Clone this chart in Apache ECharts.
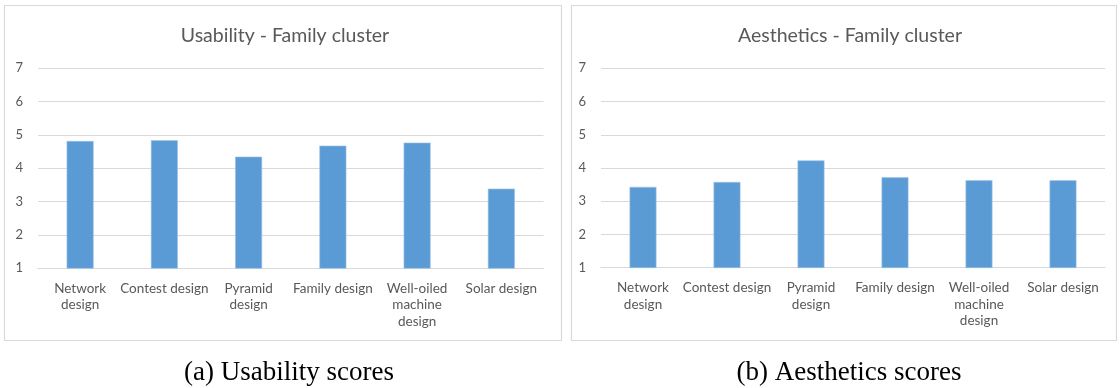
<!DOCTYPE html>
<html>
<head>
<meta charset="utf-8">
<style>
  html, body { margin: 0; padding: 0; background: #ffffff; }
  #chart { width: 1120px; height: 388px; }
</style>
<script src="https://cdn.jsdelivr.net/npm/echarts@6/dist/echarts.min.js"></script>
</head>
<body>
<div id="chart"></div>
<script>
// Design categories (line breaks as they wrap under each bar)
const categories = [
  'Network\ndesign',
  'Contest design',
  'Pyramid\ndesign',
  'Family design',
  'Well-oiled\nmachine\ndesign',
  'Solar design'
];

// Mean scores per design, Family cluster
const usabilityScores = [4.82, 4.84, 4.35, 4.68, 4.77, 3.39];
const aestheticsScores = [3.43, 3.58, 4.23, 3.72, 3.63, 3.63];

// Score axis range and ticks
const scoreMin = 1;
const scoreMax = 7;
const scoreStep = 1;

// Panel titles and captions
const panelTitles = ['Usability - Family cluster', 'Aesthetics - Family cluster'];
const captions = ['(a) Usability scores', '(b) Aesthetics scores'];

const BAR = '#5B9BD5';
const GRID = '#D9D9D9';
const TEXT = '#595959';
const FONT = 'Lato';

const chart = echarts.init(document.getElementById('chart'), null, { renderer: 'canvas' });

const grids = [
  { left: 38, right: 1120 - 543.5, top: 68.3, bottom: 388 - 268.3 },
  { left: 601, right: 1120 - 1105, top: 68.3, bottom: 388 - 267.7 }
];

function xAxisFor(i) {
  return {
    type: 'category',
    gridIndex: i,
    data: categories,
    axisTick: { show: false },
    axisLine: { show: true, lineStyle: { color: GRID, width: 1.2 } },
    axisLabel: {
      color: TEXT,
      fontFamily: FONT,
      fontSize: 13.5,
      lineHeight: 16.5,
      margin: 12,
      interval: 0
    }
  };
}

function yAxisFor(i) {
  return {
    type: 'value',
    gridIndex: i,
    min: scoreMin,
    max: scoreMax,
    interval: scoreStep,
    axisLine: { show: false },
    axisTick: { show: false },
    splitLine: { lineStyle: { color: GRID, width: 1.2 } },
    axisLabel: {
      color: TEXT,
      fontFamily: FONT,
      fontSize: 13,
      margin: 15
    }
  };
}

function barSeries(i, values) {
  return {
    type: 'bar',
    xAxisIndex: i,
    yAxisIndex: i,
    data: values,
    barWidth: '32%',
    itemStyle: { color: BAR, borderColor: '#9CC2E6', borderWidth: 0.6 },
    silent: true,
    animation: false
  };
}

function panelTitle(text, centerX) {
  return {
    text: text,
    left: centerX,
    top: 21,
    textAlign: 'center',
    textStyle: { color: TEXT, fontFamily: FONT, fontSize: 19.5, fontWeight: 'normal' }
  };
}

function caption(text, centerX) {
  return {
    type: 'text',
    x: centerX,
    y: 373,
    style: {
      text: text,
      fill: '#000000',
      font: '27px "Liberation Serif", "Times New Roman", serif',
      textAlign: 'center',
      textVerticalAlign: 'middle'
    },
    silent: true
  };
}

const option = {
  animation: false,
  backgroundColor: '#ffffff',
  title: [panelTitle(panelTitles[0], 280), panelTitle(panelTitles[1], 845)],
  grid: grids,
  xAxis: [xAxisFor(0), xAxisFor(1)],
  yAxis: [yAxisFor(0), yAxisFor(1)],
  series: [barSeries(0, usabilityScores), barSeries(1, aestheticsScores)],
  graphic: [
    {
      type: 'rect',
      shape: { x: 4.5, y: 5.5, width: 557, height: 335 },
      style: { fill: 'none', stroke: GRID, lineWidth: 1.2 },
      silent: true
    },
    {
      type: 'rect',
      shape: { x: 571.5, y: 5.5, width: 545, height: 335 },
      style: { fill: 'none', stroke: GRID, lineWidth: 1.2 },
      silent: true
    },
    caption(captions[0], 289),
    caption(captions[1], 849)
  ]
};

chart.setOption(option);
</script>
</body>
</html>
